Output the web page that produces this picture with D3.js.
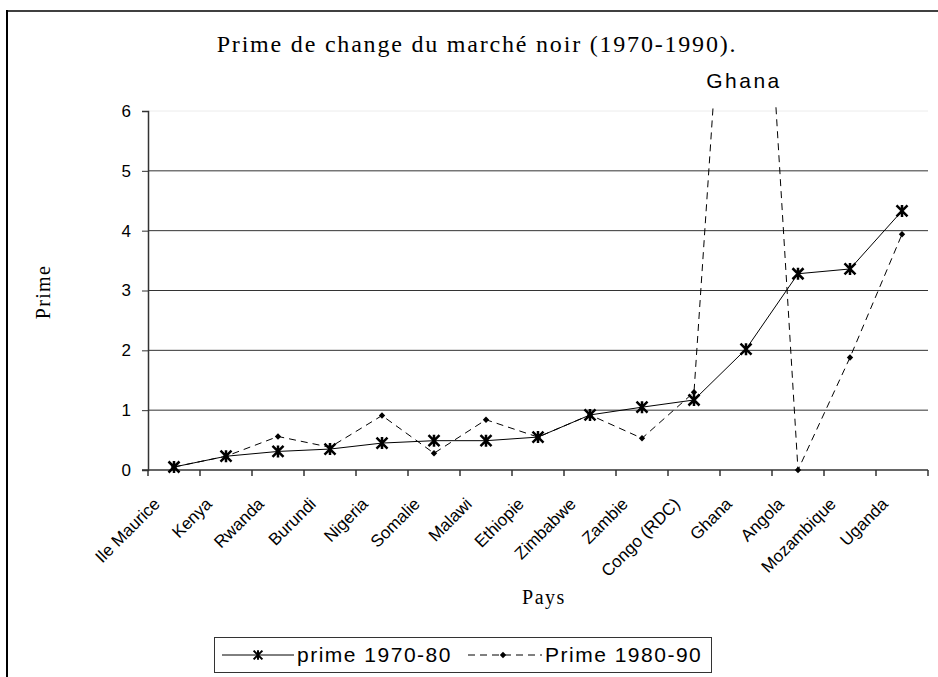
<html>
<head>
    <script src="https://d3js.org/d3.v7.min.js" charset="utf-8"></script>
    <style>
        body { margin: 0; background: #fff; }
    </style>
</head>
<body>
    <script>
        var pays = ["Ile Maurice", "Kenya", "Rwanda", "Burundi", "Nigeria", "Somalie", "Malawi", "Ethiopie",
                    "Zimbabwe", "Zambie", "Congo (RDC)", "Ghana", "Angola", "Mozambique", "Uganda"];
        var prime7080 = [0.05, 0.23, 0.31, 0.35, 0.45, 0.49, 0.49, 0.55, 0.92, 1.05, 1.17, 2.02, 3.28, 3.36, 4.33];
        var prime8090 = [0.05, 0.23, 0.56, 0.38, 0.91, 0.28, 0.84, 0.55, 0.92, 0.53, 1.30, 14.3, 0.0, 1.88, 3.94];
        var yTicks = [0, 1, 2, 3, 4, 5, 6];

        var width = 938, height = 677;
        var svg = d3.select("body").append("svg").attr("width", width).attr("height", height);

        // outer frame (runs off the picture at right and bottom)
        svg.append("line").attr("x1", 7).attr("x2", 940).attr("y1", 11).attr("y2", 11)
            .attr("stroke", "#404040").attr("stroke-width", 2);
        svg.append("line").attr("x1", 7).attr("x2", 7).attr("y1", 10).attr("y2", 680)
            .attr("stroke", "#000").attr("stroke-width", 2);

        var x = d3.scaleBand().domain(pays).range([148, 928]).padding(0);
        var y = d3.scaleLinear().domain([0, 6]).range([470, 111]);
        var cx = function(i) { return x(pays[i]) + x.bandwidth() / 2; };

        // gridlines
        svg.selectAll("line.grid").data(yTicks.filter(function(d) { return d > 0; })).enter().append("line")
            .attr("class", "grid")
            .attr("x1", 148).attr("x2", 928)
            .attr("y1", function(d) { return y(d); }).attr("y2", function(d) { return y(d); })
            .attr("stroke", function(d) { return d == 6 ? "#ececec" : "#333"; })
            .attr("stroke-width", 1);

        // y axis
        var yAxis = svg.append("g").attr("transform", "translate(148,0)")
            .call(d3.axisLeft(y).tickValues(yTicks).tickSize(6).tickPadding(11).tickFormat(d3.format("d")));
        yAxis.select(".domain").attr("stroke", "#333").attr("stroke-width", 1.5);
        yAxis.selectAll(".tick line").attr("stroke", "#333");
        yAxis.selectAll("text").attr("font-family", "Liberation Sans, Arial, sans-serif")
            .attr("font-size", "17px").attr("fill", "#000");

        // x axis: ticks between categories
        var bounds = pays.map(function(p) { return x(p); }).concat([928]);
        var xg = svg.append("g");
        xg.append("line").attr("x1", 142).attr("x2", 928).attr("y1", 470).attr("y2", 470)
            .attr("stroke", "#333").attr("stroke-width", 1.5);
        xg.selectAll("line.tk").data(bounds).enter().append("line").attr("class", "tk")
            .attr("x1", function(d) { return d; }).attr("x2", function(d) { return d; })
            .attr("y1", 470).attr("y2", 476).attr("stroke", "#333").attr("stroke-width", 1.5);
        xg.selectAll("text").data(pays).enter().append("text")
            .attr("transform", function(d, i) { return "translate(" + (cx(i) - 13) + ",505) rotate(-45)"; })
            .attr("text-anchor", "end")
            .attr("font-family", "Liberation Sans, Arial, sans-serif")
            .attr("font-size", "17px")
            .text(function(d) { return d; });

        // titles
        svg.append("text").attr("x", 477).attr("y", 52).attr("text-anchor", "middle")
            .attr("font-family", "Liberation Serif, Times New Roman, serif").attr("font-size", "24px")
            .attr("letter-spacing", "1.8px")
            .text("Prime de change du marché noir (1970-1990).");
        svg.append("text").attr("transform", "translate(50,292) rotate(-90)").attr("text-anchor", "middle")
            .attr("font-family", "Liberation Serif, Times New Roman, serif").attr("font-size", "20px")
            .attr("letter-spacing", "1.3px")
            .text("Prime");
        svg.append("text").attr("x", 544).attr("y", 604).attr("text-anchor", "middle")
            .attr("font-family", "Liberation Serif, Times New Roman, serif").attr("font-size", "20px")
            .attr("letter-spacing", "1.5px")
            .text("Pays");
        svg.append("text").attr("x", 744).attr("y", 88).attr("text-anchor", "middle")
            .attr("font-family", "Liberation Sans, Arial, sans-serif").attr("font-size", "21px")
            .attr("letter-spacing", "2.5px")
            .text("Ghana");

        // clip for lines
        svg.append("clipPath").attr("id", "plot").append("rect")
            .attr("x", 140).attr("y", 107).attr("width", 800).attr("height", 380);

        var line = d3.line().x(function(d, i) { return cx(i); }).y(function(d) { return y(d); });

        svg.append("path").datum(prime8090).attr("d", line).attr("clip-path", "url(#plot)")
            .attr("fill", "none").attr("stroke", "#000").attr("stroke-width", 1).attr("stroke-dasharray", "7,5");
        svg.append("path").datum(prime7080).attr("d", line)
            .attr("fill", "none").attr("stroke", "#000").attr("stroke-width", 1);

        var star = "M-5.5,-5.5L5.5,5.5M-5.5,5.5L5.5,-5.5M0,-6L0,6";
        var diamond = "M0,-3.2L3.2,0L0,3.2L-3.2,0Z";

        svg.selectAll("path.d8090").data(prime8090).enter().append("path").attr("class", "d8090")
            .attr("d", diamond)
            .attr("transform", function(d, i) { return "translate(" + cx(i) + "," + y(d) + ")"; })
            .attr("display", function(d) { return d > 6 ? "none" : null; })
            .attr("fill", "#000");
        svg.selectAll("path.s7080").data(prime7080).enter().append("path").attr("class", "s7080")
            .attr("d", star)
            .attr("transform", function(d, i) { return "translate(" + cx(i) + "," + y(d) + ")"; })
            .attr("stroke", "#000").attr("stroke-width", 2.5).attr("fill", "none");

        // legend
        var lg = svg.append("g");
        lg.append("rect").attr("x", 214.5).attr("y", 637.5).attr("width", 497).attr("height", 35)
            .attr("fill", "#fff").attr("stroke", "#333").attr("stroke-width", 1);
        lg.append("line").attr("x1", 222).attr("x2", 294).attr("y1", 655).attr("y2", 655)
            .attr("stroke", "#000").attr("stroke-width", 1);
        lg.append("path").attr("d", star).attr("transform", "translate(258,655) scale(0.8)")
            .attr("stroke", "#000").attr("stroke-width", 2.5).attr("fill", "none");
        lg.append("text").attr("x", 297).attr("y", 662)
            .attr("font-family", "Liberation Sans, Arial, sans-serif").attr("font-size", "21px")
            .attr("letter-spacing", "1.5px").text("prime 1970-80");
        lg.append("line").attr("x1", 468).attr("x2", 542).attr("y1", 655).attr("y2", 655)
            .attr("stroke", "#000").attr("stroke-width", 1).attr("stroke-dasharray", "7,5");
        lg.append("path").attr("d", diamond).attr("transform", "translate(503,655)").attr("fill", "#000");
        lg.append("text").attr("x", 545).attr("y", 662)
            .attr("font-family", "Liberation Sans, Arial, sans-serif").attr("font-size", "21px")
            .attr("letter-spacing", "1.5px").text("Prime 1980-90");
    </script>
</body>
</html>
